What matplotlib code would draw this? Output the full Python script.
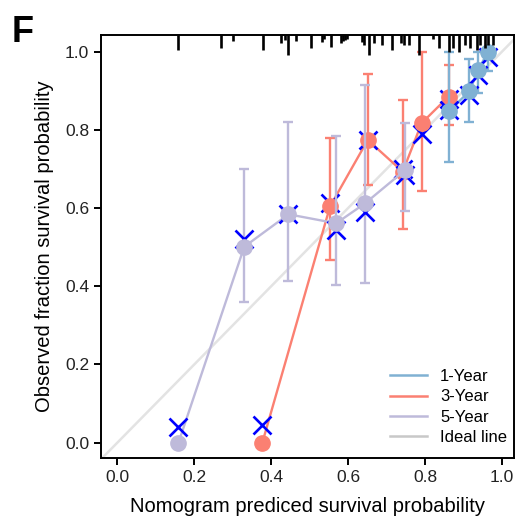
import numpy as np
from matplotlib import pyplot as plt
from matplotlib.lines import Line2D

plt.rcParams['font.family'] = ['Liberation Sans', 'DejaVu Sans']

# 1-Year
x1 = [0.861, 0.915, 0.938, 0.964]
y1 = [0.847, 0.898, 0.953, 1.0]
lo1 = [0.719, 0.821, 0.894, 0.950]
hi1 = [1.0, 0.980, 1.0, 1.0]
bc1 = [0.850, 0.890, 0.940, 0.985]

# 3-Year
x3 = [0.377, 0.553, 0.651, 0.742, 0.791, 0.861]
y3 = [0.0, 0.604, 0.774, 0.693, 0.817, 0.885]
lo3 = [None, 0.466, 0.659, 0.547, 0.644, 0.812]
hi3 = [None, 0.778, 0.942, 0.876, 1.0, 0.966]
bc3 = [0.045, 0.612, 0.774, 0.700, 0.790, 0.880]

# 5-Year
x5 = [0.159, 0.330, 0.445, 0.569, 0.644, 0.748]
y5 = [0.0, 0.501, 0.584, 0.561, 0.612, 0.697]
lo5 = [None, 0.359, 0.414, 0.403, 0.409, 0.593]
hi5 = [None, 0.699, 0.820, 0.784, 0.915, 0.818]
bc5 = [0.041, 0.520, 0.584, 0.545, 0.590, 0.685]

# distribution of predictions (top rug)
rug_x = [0.158, 0.270, 0.302, 0.378, 0.426, 0.435, 0.445, 0.464, 0.503, 0.532,
         0.538, 0.556, 0.582, 0.586, 0.592, 0.597, 0.637, 0.642, 0.653, 0.668,
         0.688, 0.714, 0.737, 0.745, 0.757, 0.783, 0.820, 0.835, 0.861, 0.872,
         0.889, 0.904, 0.917, 0.934, 0.943, 0.956, 0.964, 0.977]
rug_h = [0.038, 0.033, 0.015, 0.038, 0.020, 0.013, 0.051, 0.015, 0.033, 0.018,
         0.010, 0.031, 0.020, 0.015, 0.013, 0.010, 0.018, 0.026, 0.051, 0.020,
         0.026, 0.038, 0.020, 0.026, 0.026, 0.051, 0.010, 0.033, 0.043, 0.033,
         0.043, 0.026, 0.033, 0.038, 0.026, 0.033, 0.026, 0.026]

labels = ["1-Year", "3-Year", "5-Year"]
colors = ["#80B1D3", "#FB8072", "#BEBADA"]


def draw_series(ax, x, y, lo, hi, bc, color, z):
    ax.plot(x, y, color=color, lw=1.7, zorder=z)
    for xi, yi, l, h in zip(x, y, lo, hi):
        if l is None:
            continue
        ax.errorbar([xi], [yi], yerr=[[yi - l], [h - yi]], fmt="none",
                    ecolor=color, elinewidth=1.7, capsize=3.6, capthick=1.7, zorder=z)
    ax.plot(x, bc, "x", color="blue", markersize=12.5, markeredgewidth=1.9,
            linestyle="none", zorder=z + 0.1)
    ax.plot(x, y, "o", color=color, markersize=11, linestyle="none", zorder=z + 0.2)


def main():
    fig = plt.figure(figsize=(5.16, 5.27), dpi=100)
    ax = fig.add_axes([0.196, 0.131, 0.800, 0.803])

    xmin, xmax = -0.042, 1.031
    ymin, ymax = -0.039, 1.043
    ax.set_xlim(xmin, xmax)
    ax.set_ylim(ymin, ymax)

    ax.plot([xmin, xmax], [xmin, xmax], color="#E3E3E3", lw=1.8, zorder=1)

    draw_series(ax, x3, y3, lo3, hi3, bc3, colors[1], 2)
    draw_series(ax, x5, y5, lo5, hi5, bc5, colors[2], 3)
    draw_series(ax, x1, y1, lo1, hi1, bc1, colors[0], 4)

    ax.vlines(rug_x, ymax - np.array(rug_h), ymax, color="black", lw=1.9, zorder=5)

    ax.set_xticks([0.0, 0.2, 0.4, 0.6, 0.8, 1.0])
    ax.set_yticks([0.0, 0.2, 0.4, 0.6, 0.8, 1.0])
    ax.tick_params(direction="out", length=5, width=1.4, labelsize=12.5,
                   colors="black", labelcolor="#222222")
    for s in ax.spines.values():
        s.set_linewidth(1.4)

    ax.set_xlabel("Nomogram prediced survival probability", fontsize=14.5, labelpad=9)
    ax.set_ylabel("Observed fraction survival probability", fontsize=14.5, labelpad=8)

    handles = [Line2D([0], [0], color=c, lw=1.8) for c in colors]
    handles.append(Line2D([0], [0], color="#C8C8C8", lw=1.8))
    ax.legend(handles, labels + ["Ideal line"], loc="lower right", frameon=False,
              fontsize=12, handlelength=2.2, labelspacing=0.32,
              bbox_to_anchor=(1.02, -0.005))

    fig.text(0.023, 0.92, "F", fontsize=26, fontweight="bold")

    fig.savefig("out.png", dpi=100)


if __name__ == "__main__":
    main()
